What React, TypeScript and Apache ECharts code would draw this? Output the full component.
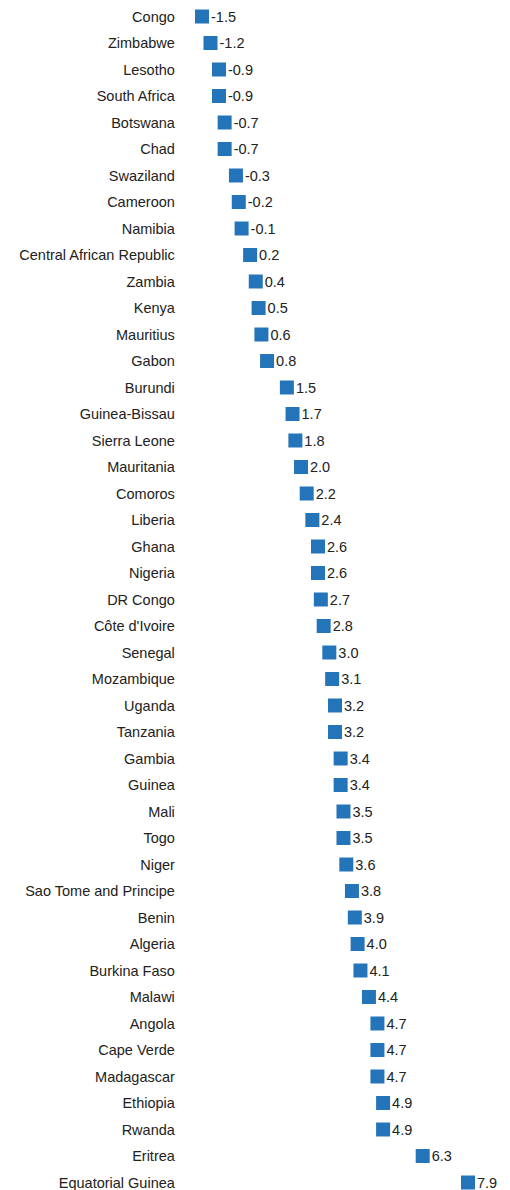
import React, { useEffect, useRef } from "react";
import * as echarts from "echarts";

const countries = [
  "Congo", "Zimbabwe", "Lesotho", "South Africa", "Botswana", "Chad", "Swaziland", "Cameroon",
  "Namibia", "Central African Republic", "Zambia", "Kenya", "Mauritius", "Gabon", "Burundi",
  "Guinea-Bissau", "Sierra Leone", "Mauritania", "Comoros", "Liberia", "Ghana", "Nigeria",
  "DR Congo", "Côte d'Ivoire", "Senegal", "Mozambique", "Uganda", "Tanzania", "Gambia", "Guinea",
  "Mali", "Togo", "Niger", "Sao Tome and Principe", "Benin", "Algeria", "Burkina Faso", "Malawi",
  "Angola", "Cape Verde", "Madagascar", "Ethiopia", "Rwanda", "Eritrea", "Equatorial Guinea",
];

const values = [
  -1.5, -1.2, -0.9, -0.9, -0.7, -0.7, -0.3, -0.2, -0.1, 0.2, 0.4, 0.5, 0.6, 0.8, 1.5, 1.7, 1.8,
  2.0, 2.2, 2.4, 2.6, 2.6, 2.7, 2.8, 3.0, 3.1, 3.2, 3.2, 3.4, 3.4, 3.5, 3.5, 3.6, 3.8, 3.9, 4.0,
  4.1, 4.4, 4.7, 4.7, 4.7, 4.9, 4.9, 6.3, 7.9,
];

const FONT = "'Liberation Sans', Arial, sans-serif";

export default function App() {
  const ref = useRef<HTMLDivElement>(null);
  useEffect(() => {
    if (!ref.current) return;
    const chart = echarts.init(ref.current, undefined, { renderer: "svg" });
    chart.setOption({
      animation: false,
      grid: { left: 187.85, right: 10.9, top: 16.5, bottom: 7.5, containLabel: false },
      xAxis: {
        type: "value",
        min: -2,
        max: 9,
        show: false,
      },
      yAxis: {
        type: "category",
        data: countries,
        inverse: true,
        boundaryGap: false,
        axisLine: { show: false },
        axisTick: { show: false },
        splitLine: { show: false },
        axisLabel: {
          margin: 13,
          fontSize: 14.5,
          color: "#222",
          fontFamily: FONT,
          verticalAlign: "middle",
        },
      },
      series: [
        {
          type: "scatter",
          symbol: "rect",
          symbolSize: 14,
          itemStyle: { color: "#2474B9", opacity: 1 },
          data: values.map((v, i) => [v, countries[i]]),
          label: {
            show: true,
            position: "right",
            distance: 2,
            fontSize: 14.5,
            color: "#222",
            fontFamily: FONT,
            formatter: (p: any) => (p.value[0] as number).toFixed(1),
          },
        },
      ],
    });
    return () => chart.dispose();
  }, []);
  return (
    <div
      ref={ref}
      style={{ position: "absolute", left: 0, top: 0, width: 510, height: 1190, background: "#fff" }}
    />
  );
}
